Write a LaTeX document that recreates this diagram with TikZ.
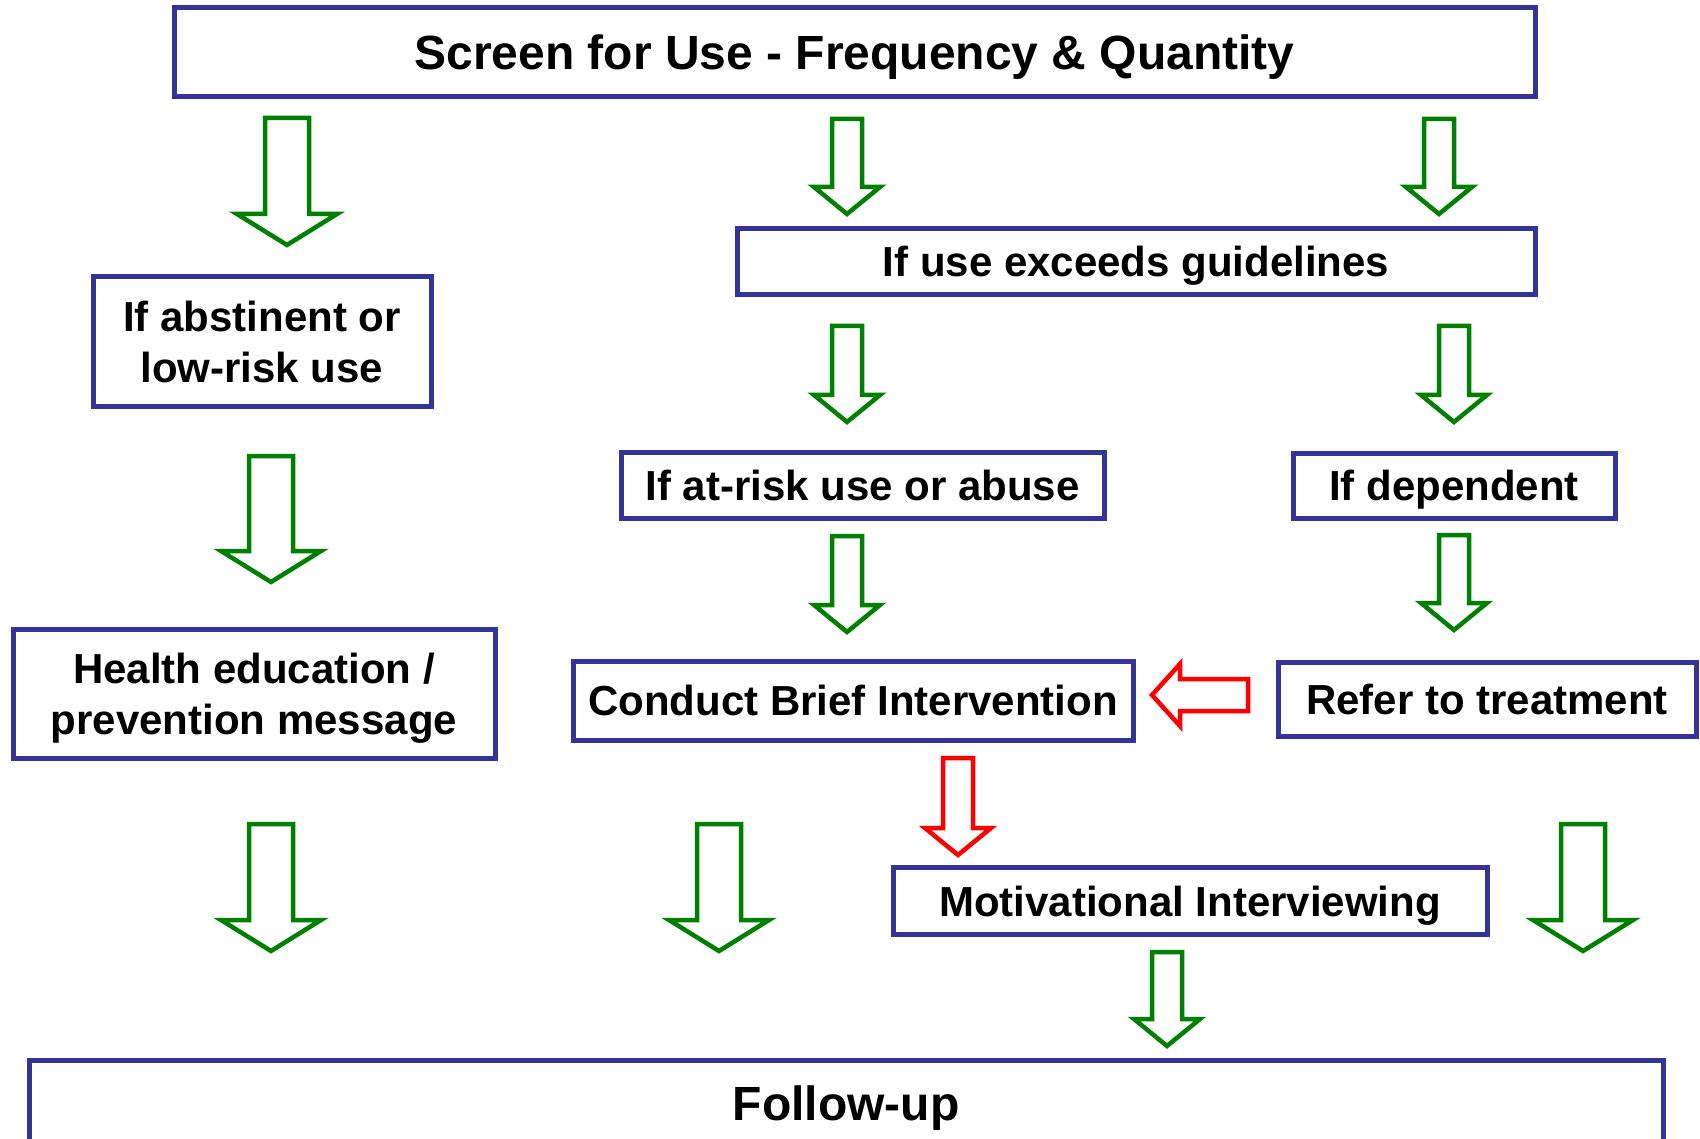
\documentclass[tikz,border=0pt]{standalone}
\usepackage{fontspec}
\setmainfont{Liberation Sans}
\definecolor{boxblue}{RGB}{51,51,153}
\definecolor{arrgreen}{RGB}{0,128,0}
\definecolor{arrred}{RGB}{255,0,0}
\newcommand\DArrow[7]{%
  \draw[#7] ({#1-#4},#2) -- ({#1+#4},#2) -- ({#1+#4},{#3-#6}) -- ({#1+#5},{#3-#6})
    -- (#1,#3) -- ({#1-#5},{#3-#6}) -- ({#1-#4},{#3-#6}) -- cycle;}
\newcommand\LArrow[7]{%
  \draw[#7] (#2,{#1-#4}) -- (#2,{#1+#4}) -- ({#3+#6},{#1+#4}) -- ({#3+#6},{#1+#5})
    -- (#3,#1) -- ({#3+#6},{#1-#5}) -- ({#3+#6},{#1-#4}) -- cycle;}
\begin{document}
\begin{tikzpicture}[x=1pt,y=-1pt,
  flowbox/.style={draw=boxblue, line width=5pt, fill=white, inner sep=0pt,
    align=center, font=\fontsize{42}{51}\selectfont\bfseries},
  oneline/.style={flowbox, text height=30pt, text depth=0pt},
  bigbox/.style={oneline, font=\fontsize{48}{56}\selectfont\bfseries, text height=34.4pt},
  greenarr/.style={draw=arrgreen, line width=4.5pt, fill=white, line join=miter},
  redarr/.style={draw=arrred, line width=4.5pt, fill=white, line join=miter}]
\useasboundingbox (0,0) rectangle (1700,1139);
\clip (0,0) rectangle (1700,1139);
\fill[white] (0,0) rectangle (1700,1139);

% boxes
\node[bigbox, minimum width=1361pt, minimum height=89pt] (screen) at (854.5,52.5) {Screen for Use - Frequency \& Quantity};
\node[oneline, minimum width=798pt, minimum height=66pt] (exceeds) at (1136,262) {If use exceeds guidelines};
\node[flowbox, minimum width=338pt, minimum height=130pt] (abst) at (262,341.5) {If abstinent or\\low-risk use};
\node[oneline, minimum width=483pt, minimum height=66pt] (atrisk) at (862.5,485) {If at-risk use or abuse};
\node[oneline, minimum width=322pt, minimum height=65pt] (dep) at (1454,485.5) {If dependent};
\node[flowbox, minimum width=482pt, minimum height=129pt] (health) at (254,693.5) {\rule{0pt}{40pt}Health education /\\prevention message};
\node[oneline, minimum width=560pt, minimum height=79pt] (brief) at (853,700.5) {Conduct Brief Intervention};
\node[oneline, minimum width=418pt, minimum height=74pt] (refer) at (1487,699) {Refer to treatment};
\node[oneline, minimum width=594pt, minimum height=67pt] (mi) at (1190,901) {Motivational Interviewing};
\node[draw=boxblue, line width=5pt, fill=white, inner sep=0pt, minimum width=1634pt, minimum height=82pt] (follow) at (846,1101) {};
\node[font=\fontsize{48}{56}\selectfont\bfseries, inner sep=0pt, text height=34.4pt, text depth=0pt] (followtxt) at (846,1103) {Follow-up};

% big green arrows
\DArrow{287}{118}{245}{22}{50}{31}{greenarr}
\DArrow{271}{456}{582}{22}{50}{31}{greenarr}
\DArrow{271}{824}{951}{22}{50}{31}{greenarr}
\DArrow{719}{824}{951}{22}{50}{31}{greenarr}
\DArrow{1583}{824}{951}{22}{50}{31}{greenarr}

% small green arrows
\DArrow{847}{119}{214}{15}{33}{27}{greenarr}
\DArrow{1439}{119}{214}{15}{33}{27}{greenarr}
\DArrow{847}{326}{422}{15}{33}{27}{greenarr}
\DArrow{1454}{326}{422}{15}{33}{27}{greenarr}
\DArrow{847}{536}{632}{15}{33}{27}{greenarr}
\DArrow{1454}{535}{630}{15}{33}{27}{greenarr}
\DArrow{1167}{952}{1046}{15}{33}{27}{greenarr}

% red arrows
\DArrow{958}{758}{855}{15}{33}{27}{redarr}
\LArrow{695}{1248}{1152}{16}{31}{28}{redarr}
\end{tikzpicture}
\end{document}
